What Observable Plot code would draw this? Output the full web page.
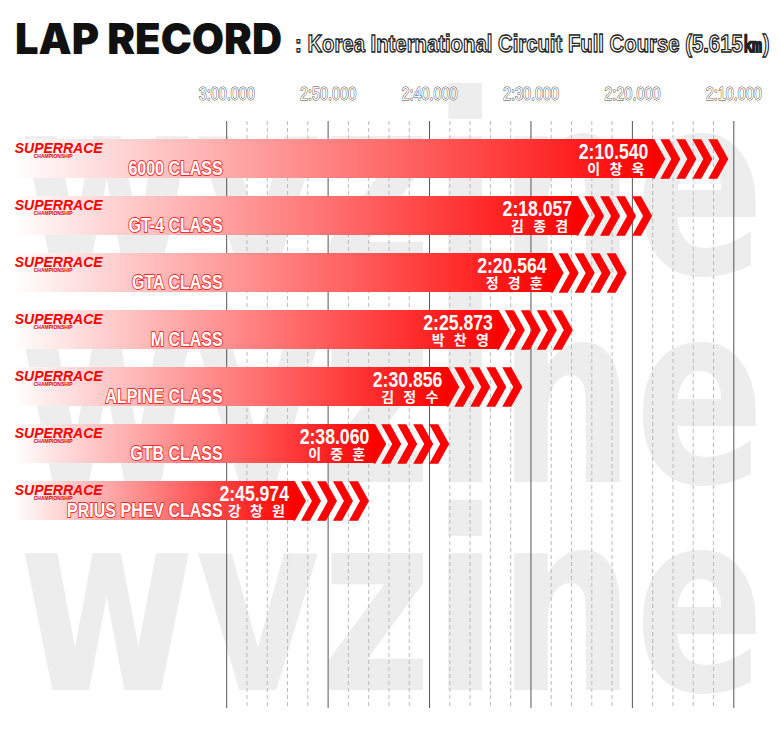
<!DOCTYPE html>
<html><head><meta charset="utf-8">
<script src="https://cdn.jsdelivr.net/npm/d3@7"></script>
<script src="https://cdn.jsdelivr.net/npm/@observablehq/plot@0.6"></script>
<style>
body{margin:0;background:#fff;}
#wrap{position:relative;width:780px;height:731px;overflow:hidden;}
#wm,#title{position:absolute;left:0;top:0;}
#chart{position:absolute;left:0;top:70px;}
</style></head><body>
<div id="wrap"><svg id="wm" width="780" height="731"></svg><svg id="title" width="780" height="70"></svg><div id="chart"></div></div>
<script>
const classes = ["6000 CLASS","GT-4 CLASS","GTA CLASS","M CLASS","ALPINE CLASS","GTB CLASS","PRIUS PHEV CLASS"];
const times = ["2:10.540","2:18.057","2:20.564","2:25.873","2:30.856","2:38.060","2:45.974"];
const drivers = ["이 창 욱","김 종 겸","정 경 훈","박 찬 영","김 정 수","이 중 훈","강 창 원"];
const axisTicks = [180,170,160,150,140,130];
const axisLabels = ["3:00.000","2:50.000","2:40.000","2:30.000","2:20.000","2:10.000"];

const parse = t => { const [m, s] = t.split(":"); return +m * 60 + +s; };
const rows = classes.map((c, i) => ({cls: c, time: times[i], driver: drivers[i], value: parse(times[i])}));
const barStart = 201;
const minorTicks = d3.range(178, 130, -2).filter(d => d % 10 !== 0);

const NARROW = "Liberation Sans, Arial, sans-serif";
const LOGO = "'Liberation Sans', sans-serif";
const KR = "'Noto Sans CJK KR', sans-serif";
const HH = 19.7;
const arrowSymbol = {
  draw(ctx) {
    ctx.moveTo(-75.5, -HH); ctx.lineTo(-74, -HH); ctx.lineTo(-63, 0); ctx.lineTo(-74, HH); ctx.lineTo(-75.5, HH); ctx.closePath();
    for (let k = 0; k < 4; k++) {
      const t = -16 * k;
      ctx.moveTo(t - 20, -HH); ctx.lineTo(t - 11, -HH); ctx.lineTo(t, 0);
      ctx.lineTo(t - 11, HH); ctx.lineTo(t - 20, HH); ctx.lineTo(t - 9, 0); ctx.closePath();
    }
  }
};

// watermark (scaled horizontally to fit the page width)
const wm = d3.select("#wm");
[273, 482, 690].forEach(b => {
  const t = wm.append("text")
    .attr("x", 0).attr("y", 0)
    .attr("font-family", "DejaVu Sans").attr("font-weight", 700).attr("font-size", 250)
    .attr("fill", "#ededed").text("wvzine");
  const L = t.node().getComputedTextLength();
  t.attr("transform", `translate(18,${b}) scale(${747 / L},1)`);
});

// title
const tt = d3.select("#title");
tt.append("text").attr("x", 15).attr("y", 54).attr("textLength", 267).attr("lengthAdjust", "spacingAndGlyphs")
  .attr("font-family", "Inter").attr("font-weight", 900).attr("font-size", 42).attr("fill", "#111").text("LAP RECORD");
const sub = tt.append("text").attr("x", 0).attr("y", 0)
  .attr("font-family", "'Liberation Sans', sans-serif").attr("font-weight", 700).attr("font-size", 24)
  .attr("fill", "#fff").attr("stroke", "#222").attr("stroke-width", 1.3)
  .text(": Korea International Circuit Full Course (5.615㎞)");
const SL = sub.node().getComputedTextLength();
sub.attr("transform", `translate(295,52) scale(${475 / SL},1)`);

const svg = Plot.plot({
  width: 780, height: 661,
  marginTop: 51, marginBottom: 23, marginLeft: 0, marginRight: 0,
  style: {background: "transparent", overflow: "visible"},
  x: {domain: [180, 130], range: [226.2, 733.3], axis: null},
  y: {domain: classes, range: [66, 452], paddingInner: 0.32, paddingOuter: 0, axis: null},
  marks: [
    Plot.ruleX(minorTicks, {x: d => d, stroke: "#bbb", strokeDasharray: "4,3"}),
    Plot.ruleX(axisTicks, {x: d => d, stroke: "#555"}),
    Plot.text(axisTicks, {x: d => d, text: (d, i) => axisLabels[i], frameAnchor: "top", dy: -22, lineAnchor: "bottom",
      fontSize: 18, fontFamily: NARROW, fill: "white", stroke: "#444", strokeWidth: 1}),
    Plot.barX(rows, {x1: barStart, x2: "value", y: "cls", insetRight: 74, fill: "url(#barGrad)"}),
    Plot.dot(rows, {x: "value", y: "cls", r: 1, symbol: arrowSymbol, fill: "#ff0000", stroke: "none"}),
    Plot.text(rows, {x: barStart, y: "cls", text: () => "SUPERRACE", dx: 1, dy: -6, textAnchor: "start", lineAnchor: "bottom",
      fontStyle: "italic", fontWeight: 900, fontSize: 14, fontFamily: LOGO, fill: "#ff0000"}),
    Plot.text(rows, {x: barStart, y: "cls", text: () => "CHAMPIONSHIP", dx: 20, dy: -1.5, textAnchor: "start", lineAnchor: "bottom",
      fontWeight: 700, fontSize: 5, fontFamily: LOGO, fill: "#e00000"}),
    Plot.text(rows, {x: 180, y: "cls", text: "cls", dx: -4, dy: 16, textAnchor: "end", lineAnchor: "bottom",
      fontSize: 20, fontWeight: 700, fontFamily: NARROW, fill: "white", stroke: "#ff2a2a", strokeWidth: 2, paintOrder: "stroke"}),
    Plot.text(rows, {x: "value", y: "cls", text: "time", dx: -80, dy: 0, textAnchor: "end", lineAnchor: "bottom",
      fontSize: 22, fontWeight: 700, fontFamily: NARROW, fill: "white"}),
    Plot.text(rows, {x: "value", y: "cls", text: "driver", dx: -81, dy: 14.5, textAnchor: "end", lineAnchor: "bottom",
      fontSize: 14, fontWeight: 700, fontFamily: KR, fill: "white"})
  ]
});
const defs = d3.select(svg).insert("defs", ":first-child");
const g = defs.append("linearGradient").attr("id", "barGrad").attr("x1", 0).attr("x2", 1).attr("y1", 0).attr("y2", 0);
g.append("stop").attr("offset", 0).attr("stop-color", "#ffffff");
g.append("stop").attr("offset", 1).attr("stop-color", "#ff0000");
document.getElementById("chart").appendChild(svg);

// emulate a narrow face: compress glyphs of the narrow text marks
svg.querySelectorAll("g").forEach(gr => {
  const ff = gr.getAttribute("font-family");
  if (ff === NARROW) {
    gr.querySelectorAll("text").forEach(t => {
      const L = t.getComputedTextLength();
      t.setAttribute("textLength", (L * 0.8).toFixed(1));
      t.setAttribute("lengthAdjust", "spacingAndGlyphs");
    });
  } else if (ff === KR) {
    gr.querySelectorAll("text").forEach(t => { t.style.letterSpacing = "3px"; });
  }
});
</script></body></html>
